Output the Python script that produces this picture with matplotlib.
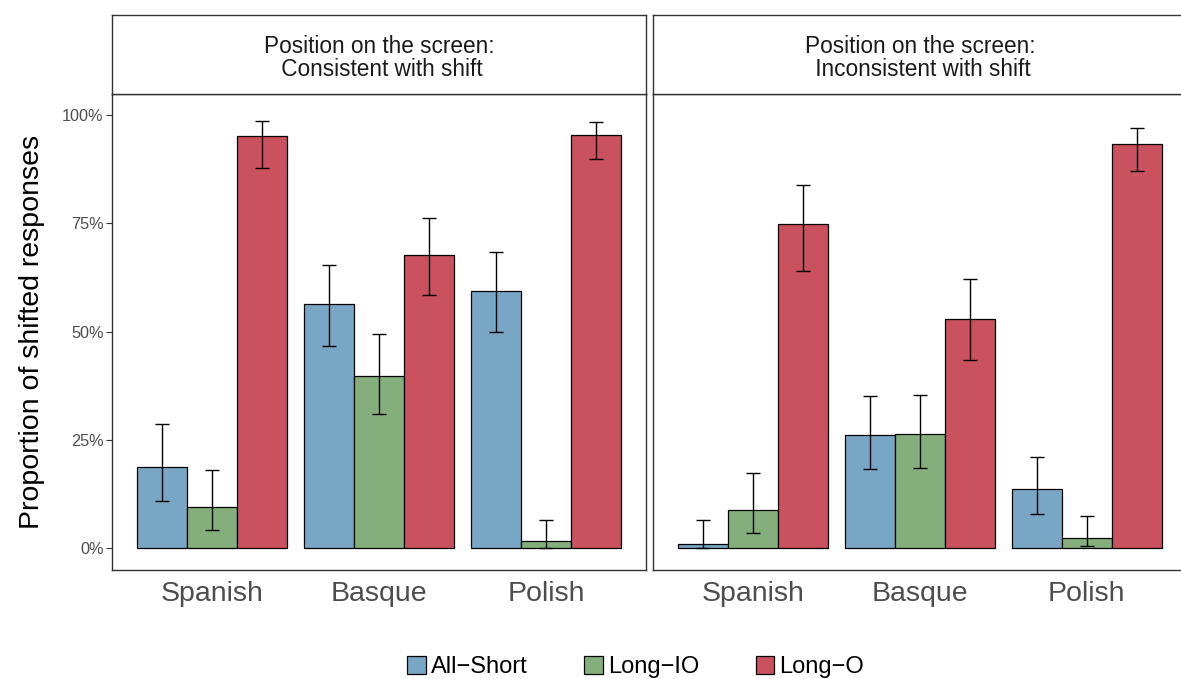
import matplotlib
matplotlib.use("Agg")
import matplotlib.pyplot as plt
import numpy as np
from matplotlib.patches import Patch

plt.rcParams["font.family"] = ["Liberation Sans", "DejaVu Sans"]

# ─── Data ────────────────────────────────────────────────────────────────────

languages = ["Spanish", "Basque", "Polish"]
conditions = ["All\u2212Short", "Long\u2212IO", "Long\u2212O"]
panel_titles = ["Position on the screen:\n Consistent with shift",
                "Position on the screen:\n Inconsistent with shift"]

# Consistent with shift
cons_mean = [[0.187, 0.564, 0.594],   # All-Short
             [0.096, 0.399, 0.017],   # Long-IO
             [0.951, 0.677, 0.955]]   # Long-O
cons_low = [[0.110, 0.468, 0.499],
            [0.042, 0.309, 0.001],
            [0.879, 0.584, 0.898]]
cons_high = [[0.287, 0.654, 0.684],
             [0.182, 0.494, 0.065],
             [0.987, 0.762, 0.985]]

# Inconsistent with shift
inc_mean = [[0.011, 0.262, 0.136],
            [0.088, 0.264, 0.025],
            [0.749, 0.529, 0.933]]
inc_low = [[0.000, 0.184, 0.079],
           [0.035, 0.186, 0.005],
           [0.640, 0.435, 0.871]]
inc_high = [[0.065, 0.352, 0.211],
            [0.175, 0.354, 0.075],
            [0.839, 0.622, 0.971]]

colors = ["#78A7C6", "#84AF7D", "#C9525E"]

# ─── Layout (pixel based) ────────────────────────────────────────────────────

W, H = 1181, 679
fig = plt.figure(figsize=(W / 100, H / 100), dpi=100)


def rect(x0, y0, x1, y1):
    return [x0 / W, 1 - y1 / H, (x1 - x0) / W, (y1 - y0) / H]


panel_x = [(112, 646), (653, 1187)]
strip_top, panel_top, panel_bottom = 14.7, 93.5, 570
edge = "#333333"

panels = [(cons_mean, cons_low, cons_high), (inc_mean, inc_low, inc_high)]
x = np.arange(len(languages)) + 1
width = 0.3
offsets = [-width, 0, width]

for i, ((x0, x1), (mean, low, high)) in enumerate(zip(panel_x, panels)):
    ax = fig.add_axes(rect(x0, panel_top, x1, panel_bottom))
    for j in range(len(conditions)):
        m = np.array(mean[j])
        lo = np.array(low[j])
        hi = np.array(high[j])
        ax.bar(x + offsets[j], m, width, color=colors[j],
               edgecolor="black", linewidth=0.9, zorder=2)
        ax.errorbar(x + offsets[j], m, yerr=[m - lo, hi - m], fmt="none",
                    ecolor="black", elinewidth=1.0, capsize=5, capthick=1.0,
                    zorder=3)

    ax.set_xlim(0.4, 3.6)
    ax.set_ylim(-0.05, 1.05)
    ax.set_xticks(x)
    ax.set_xticklabels(languages, fontsize=20.5, color="#4D4D4D")
    ax.tick_params(axis="x", length=0, pad=8)
    ax.set_yticks([0, 0.25, 0.5, 0.75, 1.0])
    if i == 0:
        ax.set_yticklabels(["0%", "25%", "50%", "75%", "100%"],
                           fontsize=11.7, color="#4D4D4D")
        ax.tick_params(axis="y", length=4, width=0.8, color=edge, pad=2)
        ax.set_ylabel("Proportion of shifted responses", fontsize=20.5,
                      labelpad=12)
    else:
        ax.tick_params(axis="y", length=0, labelleft=False)
    for s in ax.spines.values():
        s.set_color(edge)
        s.set_linewidth(1.0)

    # facet strip
    sx = fig.add_axes(rect(x0, strip_top, x1, panel_top))
    sx.set_xticks([])
    sx.set_yticks([])
    for s in sx.spines.values():
        s.set_color(edge)
        s.set_linewidth(1.0)
    sx.text(0.5, 0.45, panel_titles[i], ha="center", va="center",
            fontsize=16.3, color="#1A1A1A", linespacing=1.05,
            transform=sx.transAxes)

handles = [Patch(facecolor=c, edgecolor="black", linewidth=0.9) for c in colors]
fig.legend(handles, conditions, loc="center", ncol=3, frameon=False,
           bbox_to_anchor=(635.5 / W, 1 - 667 / H), fontsize=17,
           handlelength=0.8, handleheight=0.8, handletextpad=0.2,
           columnspacing=2.4, borderpad=0, borderaxespad=0)

fig.savefig("out.png", dpi=100)
